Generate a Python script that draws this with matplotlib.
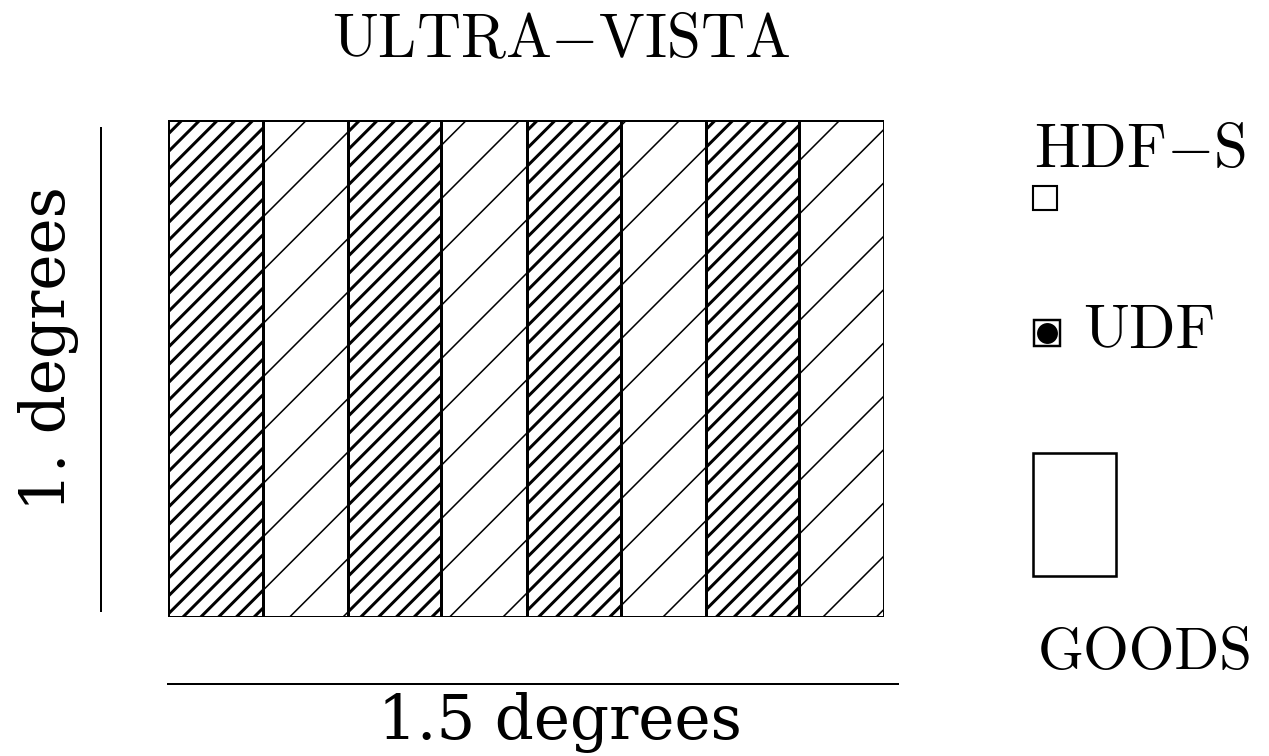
import matplotlib
matplotlib.use('Agg')
import matplotlib.pyplot as plt
from matplotlib.patches import Rectangle
import numpy as np

plt.rcParams['font.family'] = ['cmr10', 'DejaVu Serif']
plt.rcParams['mathtext.fontset'] = 'cm'
plt.rcParams['axes.formatter.use_mathtext'] = True

# survey field (degrees)
field_width = 1.5
field_height = 1.0
strip_widths = [0.199, 0.178, 0.195, 0.180, 0.197, 0.178, 0.195, 0.178]
strip_kind = ['deep', 'shallow', 'deep', 'shallow', 'deep', 'shallow', 'deep', 'shallow']

title = r'ULTRA$-$VISTA'
xlabel = '1.5 degrees'
ylabel = '1. degrees'
legend_names = [r'HDF$-$S', 'UDF', 'GOODS']

W, H = 1269, 756
DPI = 160  # hatch spacing follows dpi
fig = plt.figure(figsize=(W / DPI, H / DPI), dpi=DPI)

# overlay in pixel units for labels / legend layout
lay = fig.add_axes([0, 0, 1, 1], zorder=0)
lay.set_xlim(0, W)
lay.set_ylim(H, 0)
lay.axis('off')

ax = fig.add_axes([168 / W, 1 - 617 / H, 716 / W, 497 / H], zorder=1)
ax.set_xlim(0, field_width)
ax.set_ylim(0, field_height)
ax.axis('off')

hatches = {'deep': '///', 'shallow': '/'}
hatch_lw = {'deep': 1.35, 'shallow': 0.7}

lefts = np.concatenate([[0], np.cumsum(strip_widths)[:-1]])
for left, w, kind in zip(lefts, strip_widths, strip_kind):
    with plt.rc_context({'hatch.linewidth': hatch_lw[kind], 'hatch.color': 'black'}):
        r = Rectangle((left, 0), w, field_height, facecolor='white',
                      edgecolor='black', lw=1.35, hatch=hatches[kind])
        if hasattr(r, 'set_hatch_linewidth'):
            r.set_hatch_linewidth(hatch_lw[kind])
        ax.add_patch(r)

fs = 27.5
fs_lab = 27.5
lab_font = 'DejaVu Serif'

# title and scale bars
lay.text(561, 57, title, ha='center', va='baseline', fontsize=fs)
lay.plot([168, 898], [684, 684], color='black', lw=0.9)
lay.text(560, 739, xlabel, ha='center', va='baseline', fontsize=fs_lab,
         family=lab_font)
lay.plot([101, 101], [128, 611], color='black', lw=0.9)
lay.text(65, 349, ylabel, rotation=90, rotation_mode='anchor',
         ha='center', va='baseline', fontsize=fs_lab, family=lab_font)

# legend
lay.text(1034, 167, legend_names[0], ha='left', va='baseline', fontsize=fs)
lay.plot([1045], [198], marker='s', ms=10.5, mfc='white', mec='black', mew=0.95)

lay.plot([1047], [333], marker='s', ms=12, mfc='white', mec='black', mew=1.1)
lay.plot([1047], [333], marker='o', ms=9.4, mfc='black', mec='black', mew=0)
lay.text(1083, 348, legend_names[1], ha='left', va='baseline', fontsize=fs)

lay.add_patch(Rectangle((1033, 453), 83, 123, facecolor='white',
                        edgecolor='black', lw=1.15))
lay.text(1038, 669, legend_names[2], ha='left', va='baseline', fontsize=26.5)

fig.savefig('out.png', dpi=DPI, facecolor='white')
